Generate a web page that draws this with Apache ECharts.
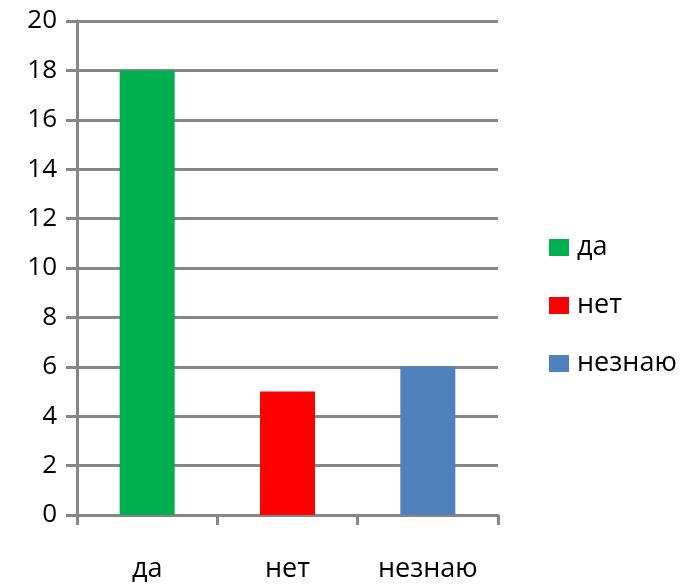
<!DOCTYPE html>
<html><head><meta charset="utf-8">
<script src="https://cdn.jsdelivr.net/npm/echarts@6/dist/echarts.min.js"></script>
<style>html,body{margin:0;padding:0;background:#fff}#c{width:687px;height:584px}</style>
</head><body><div id="c"></div>
<script>
const categories = ['да', 'нет', 'незнаю'];
const values = [18, 5, 6];
const colors = ['#00B050', '#FF0000', '#4F81BD'];
const yTicks = [0, 2, 4, 6, 8, 10, 12, 14, 16, 18, 20];

const FONT = 'Open Sans';
const gray = '#868686';
const series = categories.map((name, i) => ({
  name: name,
  type: 'bar',
  stack: 'all',
  barWidth: 55,
  itemStyle: { color: colors[i] },
  data: categories.map((c, j) => (j === i ? values[i] : '-'))
}));

const chart = echarts.init(document.getElementById('c'), null, { renderer: 'canvas' });
chart.setOption({
  animation: false,
  backgroundColor: '#fff',
  textStyle: { fontFamily: FONT },
  grid: { left: 77, right: 189, top: 21, bottom: 69, containLabel: false },
  legend: {
    orient: 'vertical',
    left: 544,
    top: 229,
    itemWidth: 20,
    itemHeight: 17,
    itemGap: 31,
    icon: 'rect',
    textStyle: { fontSize: 27, color: '#000', fontFamily: FONT, padding: [0, 0, 0, 3] },
    data: categories
  },
  xAxis: {
    type: 'category',
    data: categories,
    axisLine: { lineStyle: { color: gray, width: 3 } },
    axisTick: { show: true, length: 10, lineStyle: { color: gray, width: 3 } },
    axisLabel: { fontSize: 27, color: '#000', margin: 41, fontFamily: FONT }
  },
  yAxis: {
    type: 'value',
    min: yTicks[0],
    max: yTicks[yTicks.length - 1],
    interval: 2,
    axisLine: { show: true, lineStyle: { color: gray, width: 3 } },
    axisTick: { show: true, length: 11, lineStyle: { color: gray, width: 3 } },
    splitLine: { show: true, lineStyle: { color: gray, width: 3 } },
    axisLabel: { fontSize: 26, color: '#000', margin: 20, fontFamily: FONT }
  },
  series: series
});
</script></body></html>
